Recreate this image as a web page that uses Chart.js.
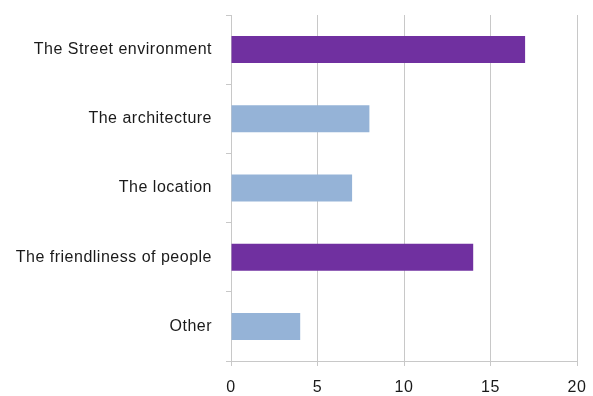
<!DOCTYPE html>
<html>
<head>
<meta charset="utf-8">
<script src="https://cdn.jsdelivr.net/npm/chart.js@4/dist/chart.umd.min.js"></script>
<style>
  html, body { margin: 0; padding: 0; background: #fff; }
  #wrap { width: 593px; height: 396px; }
</style>
</head>
<body>
<div id="wrap"><canvas id="chart" width="593" height="396"></canvas></div>
<script>
const categories = ['The Street environment', 'The architecture', 'The location', 'The friendliness of people', 'Other'];
const values = [17, 8, 7, 14, 4];
const barColors = ['#7030A0', '#95B3D7', '#95B3D7', '#7030A0', '#95B3D7'];
const xTicks = [0, 5, 10, 15, 20];

const gridGray = '#c8c8c8';

// texte un peu espacé comme dans l'original
const spacing = {
    id: 'spacing',
    beforeDraw(chart) { chart.ctx.letterSpacing = '0.5px'; }
};

new Chart(document.getElementById('chart').getContext('2d'), {
    type: 'bar',
    data: {
        labels: categories,
        datasets: [{
            data: values,
            backgroundColor: barColors,
            categoryPercentage: 1,
            barPercentage: 0.39
        }]
    },
    options: {
        indexAxis: 'y',
        responsive: false,
        animation: false,
        layout: { padding: { top: 15, right: 16, left: 0, bottom: 0 } },
        scales: {
            x: {
                min: 0, max: 20,
                afterBuildTicks(scale) { scale.ticks = xTicks.map(v => ({ value: v })); },
                afterFit(scale) {
                    scale.height = 35;
                    scale.paddingLeft = 0; scale.paddingRight = 0;
                },
                grid: { color: gridGray, tickLength: 5 },
                border: { color: gridGray },
                ticks: { color: '#1a1a1a', padding: 12, font: { family: 'Liberation Sans', size: 16 } }
            },
            y: {
                afterFit(scale) {
                    scale.width = 231;
                    scale.paddingTop = 0; scale.paddingBottom = 0;
                },
                grid: { display: true, drawOnChartArea: false, color: gridGray, tickLength: 5, offset: true },
                border: { color: gridGray },
                ticks: { color: '#1a1a1a', padding: 14, font: { family: 'Liberation Sans', size: 16 } }
            }
        },
        plugins: { legend: { display: false }, tooltip: { enabled: false } }
    },
    plugins: [spacing]
});
</script>
</body>
</html>
